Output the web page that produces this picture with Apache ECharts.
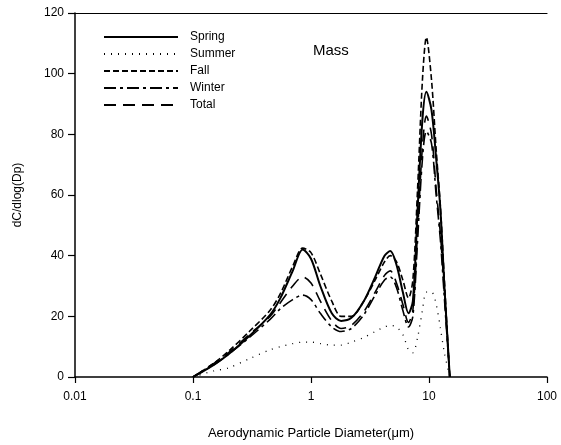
<!DOCTYPE html>
<html>
<head>
<meta charset="utf-8">
<script src="https://cdn.jsdelivr.net/npm/echarts@6/dist/echarts.min.js"></script>
<style>
  html, body { margin: 0; padding: 0; background: #fff; }
  #chart { width: 561px; height: 445px; }
</style>
</head>
<body>
<div id="chart"></div>
<script>
  // particle diameter (um)
  var diam   = [0.1, 0.15, 0.2, 0.3, 0.45, 0.55, 0.7, 0.85, 1.0, 1.2, 1.5, 1.8, 2.2, 2.8, 3.5, 4.2, 4.7, 5.3, 6.0, 6.7, 7.3, 8.0, 8.8, 9.5, 10.5, 11.5, 12.5, 13.5, 15];
  var spring = [0, 4, 7.5, 13.5, 20.5, 26, 35, 42, 39, 30, 21, 18.5, 19.5, 25, 33, 40, 41.5, 37, 28, 21, 25, 55, 85, 94, 88, 72, 55, 30, 0];
  var summer = [0, 2, 3, 6, 9, 10, 11, 11.5, 11.5, 11, 10.5, 10.5, 11.5, 13, 15, 16.5, 17, 16.5, 14, 9, 8, 13, 22, 28, 28, 24, 16, 8, 0];
  var fall   = [0, 4.5, 8.5, 15, 22, 27.5, 36.5, 42.5, 41, 34, 25, 20, 20, 25, 32, 38, 40, 38, 32, 26, 32, 62, 98, 112, 98, 75, 56, 32, 0];
  var winter = [0, 4, 7.5, 13, 19, 22.5, 25.5, 27, 25.5, 21, 16.5, 15, 16, 20.5, 27, 32, 33, 29.5, 22, 16.5, 20, 45, 72, 81, 77, 60, 45, 26, 0];
  var total  = [0, 4.5, 8, 14, 20, 24.5, 30, 33, 31, 25, 18.5, 16, 17, 21.5, 28, 33.5, 35, 31, 24, 18, 22, 48, 76, 86, 80, 62, 47, 28, 0];
  var yTicks = [0, 20, 40, 60, 80, 100, 120];

  function pairs(vals) {
    return diam.map(function (d, i) { return [d, vals[i]]; });
  }

  var font = '"Liberation Sans", Arial, sans-serif';
  var chart = echarts.init(document.getElementById('chart'));

  function line(name, vals, type, width) {
    return {
      name: name,
      type: 'line',
      data: pairs(vals),
      smooth: 0.3,
      symbol: 'none',
      xAxisIndex: 0,
      lineStyle: { color: '#000', width: width, type: type },
      itemStyle: { color: '#000' }
    };
  }

  var option = {
    backgroundColor: '#fff',
    animation: false,
    grid: { left: 75, right: 14, top: 13, bottom: 65 },
    title: {
      text: 'Mass',
      left: 308,
      top: 38,
      textStyle: { fontFamily: font, fontSize: 15, fontWeight: 'normal', color: '#000' }
    },
    legend: {
      orient: 'vertical',
      left: 98,
      top: 25,
      itemWidth: 74,
      itemHeight: 10,
      itemGap: 3,
      itemStyle: { opacity: 0 },
      textStyle: { fontFamily: font, fontSize: 12, color: '#000', padding: [0, 0, 0, 7], lineHeight: 14 },
      data: ['Spring', 'Summer', 'Fall', 'Winter', 'Total']
    },
    xAxis: [
      {
        type: 'log',
        logBase: 10,
        min: 0.01,
        max: 100,
        name: 'Aerodynamic Particle Diameter(\u03bcm)',
        nameLocation: 'middle',
        nameGap: 50,
        nameTextStyle: { fontFamily: font, fontSize: 13, color: '#000' },
        axisLine: { lineStyle: { color: '#000', width: 1.5 } },
        axisTick: { show: true, inside: false, length: 6, lineStyle: { color: '#000', width: 1.2 } },
        minorTick: { show: false },
        splitLine: { show: false },
        axisLabel: {
          margin: 14,
          fontFamily: font, fontSize: 12, color: '#000',
          formatter: function (v) { return String(+v.toPrecision(3)); }
        }
      },
      {
        type: 'log',
        logBase: 10,
        min: 0.01,
        max: 100,
        position: 'top',
        axisLine: { lineStyle: { color: '#000', width: 1.2 } },
        axisTick: { show: false },
        axisLabel: { show: false },
        splitLine: { show: false }
      }
    ],
    yAxis: {
      type: 'value',
      min: 0,
      max: 120,
      interval: 20,
      name: 'dC/dlog(Dp)',
      nameLocation: 'middle',
      nameGap: 51,
      nameTextStyle: { fontFamily: font, fontSize: 12, color: '#000' },
      axisLine: { show: true, lineStyle: { color: '#000', width: 1.5 } },
      axisTick: { show: true, inside: false, length: 7, lineStyle: { color: '#000', width: 1.2 } },
      splitLine: { show: false },
      axisLabel: {
        margin: 11,
        fontFamily: font, fontSize: 12, color: '#000',
        formatter: function (v) { return yTicks.indexOf(v) >= 0 ? String(v) : ''; }
      }
    },
    series: [
      line('Spring', spring, 'solid', 2),
      line('Summer', summer, [1, 6], 1.3),
      line('Fall', fall, [6, 3], 1.6),
      line('Winter', winter, [12, 4, 3, 4], 1.6),
      line('Total', total, [12, 7], 1.6)
    ]
  };

  chart.setOption(option);
</script>
</body>
</html>
